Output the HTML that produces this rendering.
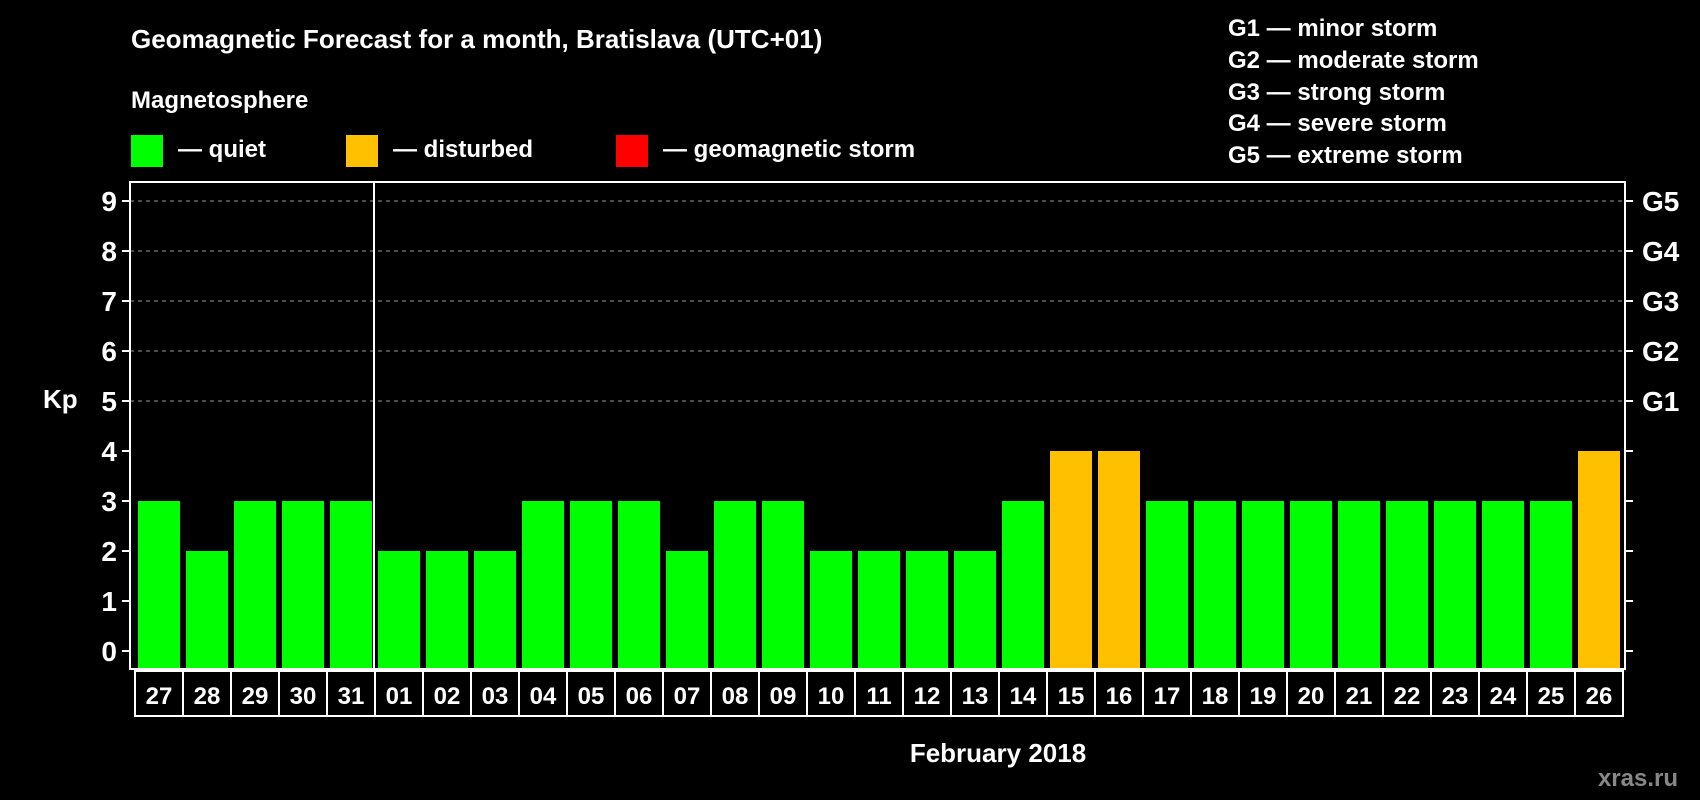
<!DOCTYPE html>
<html><head><meta charset="utf-8"><style>
html,body{margin:0;padding:0;background:#000;}
svg{display:block;font-family:"Liberation Sans",Arial,sans-serif;font-weight:bold;}
</style></head><body>
<svg id="c" width="1700" height="800" viewBox="0 0 1700 800">
<rect x="0" y="0" width="1700" height="800" fill="#000"/>
<text x="131" y="48" fill="#fff" font-size="26">Geomagnetic Forecast for a month, Bratislava (UTC+01)</text>
<text x="131" y="108" fill="#fff" font-size="24">Magnetosphere</text>
<rect x="131" y="135" width="32" height="32" fill="#00ff00"/>
<text x="178" y="157" fill="#fff" font-size="24">— quiet</text>
<rect x="346" y="135" width="32" height="32" fill="#ffc000"/>
<text x="393" y="157" fill="#fff" font-size="24">— disturbed</text>
<rect x="616" y="135" width="32" height="32" fill="#ff0000"/>
<text x="663" y="157" fill="#fff" font-size="24">— geomagnetic storm</text>
<g fill="#fff" font-size="24">
<text x="1228" y="36">G1 — minor storm</text>
<text x="1228" y="68">G2 — moderate storm</text>
<text x="1228" y="100">G3 — strong storm</text>
<text x="1228" y="131">G4 — severe storm</text>
<text x="1228" y="163">G5 — extreme storm</text>
</g>
<text x="43" y="408" fill="#fff" font-size="26">Kp</text>
<text x="998" y="762" fill="#fff" font-size="26" text-anchor="middle">February 2018</text>
<text x="1678" y="786" fill="#888" font-size="24" text-anchor="end">xras.ru</text>
<g id="grid"></g><g id="bars"></g><g id="axes"></g><g id="labels"></g>
</svg>
<script>
const days=["27","28","29","30","31","01","02","03","04","05","06","07","08","09","10","11","12","13","14","15","16","17","18","19","20","21","22","23","24","25","26"];
const kpValues=[3,2,3,3,3,2,2,2,3,3,3,2,3,3,2,2,2,2,3,4,4,3,3,3,3,3,3,3,3,3,4];
const yTicks=[0,1,2,3,4,5,6,7,8,9];
const gLabels=["","","","","","G1","G2","G3","G4","G5"];
const NS="http://www.w3.org/2000/svg";
const PL=130,PR=1625,PT=182,PB=669;
function y(v){return 651-50*v;}
function x(i){return 138+48*i;}
const BW=42;
function mk(t,a,p){const e=document.createElementNS(NS,t);for(const k in a)e.setAttribute(k,a[k]);p.appendChild(e);return e;}
const grid=document.getElementById('grid'),bars=document.getElementById('bars'),axes=document.getElementById('axes'),labels=document.getElementById('labels');
yTicks.forEach((v,i)=>{
  if(v>=5){const l=mk('line',{x1:PL,x2:PR,y1:y(v),y2:y(v),stroke:'#999','stroke-dasharray':'4,4','stroke-width':1},grid);
  
  }
  const t1=mk('line',{x1:PL-8,x2:PL,y1:y(v),y2:y(v),stroke:'#fff','stroke-width':2},axes);
  
  
  const t2=mk('line',{x1:PR,x2:PR+8,y1:y(v),y2:y(v),stroke:'#fff','stroke-width':2},axes);
  
  
  const tl=mk('text',{x:117,y:y(v)+10,fill:'#fff','font-size':28,'text-anchor':'end'},labels);tl.textContent=v;
  
  
  if(gLabels[i]){const g=mk('text',{x:1642,y:y(v)+10,fill:'#fff','font-size':28},labels);g.textContent=gLabels[i];
  
  }
});
kpValues.forEach((v,i)=>{
  const c=v>=5?'#ff0000':(v>=4?'#ffc000':'#00ff00');
  const b=mk('rect',{x:x(i),y:y(v),width:BW,height:PB-1-y(v),fill:c},bars);
  
  
  const bx=mk('rect',{x:x(i)-3,y:PB+2,width:48,height:45,fill:'none',stroke:'#fff','stroke-width':2},labels);
  
  
  const t=mk('text',{x:x(i)+BW/2,y:PB+35,fill:'#fff','font-size':24,'text-anchor':'middle'},labels);t.textContent=days[i];
  
  
});
const fr=mk('rect',{x:PL,y:PT,width:PR-PL,height:PB-PT,fill:'none',stroke:'#fff','stroke-width':2},axes);


const dv=mk('line',{x1:x(5)-4,x2:x(5)-4,y1:PT,y2:PB,stroke:'#fff','stroke-width':2},axes);


</script>
</body></html>
